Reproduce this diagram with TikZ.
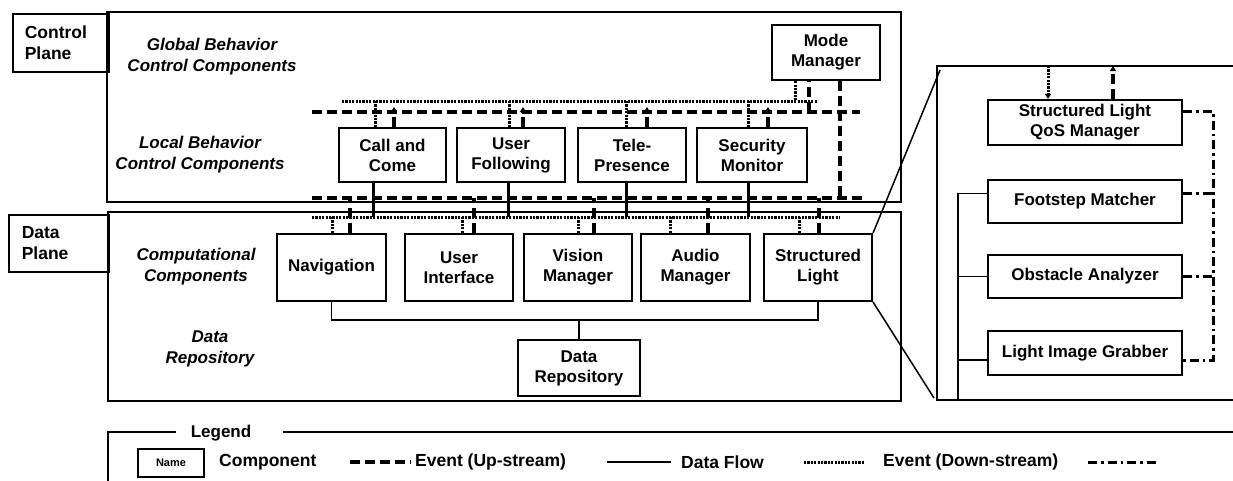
\documentclass[tikz,border=0pt]{standalone}
\usepackage{fontspec}
\setmainfont{Liberation Sans}
\usetikzlibrary{arrows.meta}
\begin{document}
\begin{tikzpicture}[x=1pt,y=-1pt,
  comp/.style={draw,line width=2.2pt,align=center,inner sep=0pt,font=\bfseries\fontsize{17}{20}\selectfont},
  lbl/.style={align=center,font=\bfseries\itshape\fontsize{17}{21}\selectfont},
  plane/.style={draw,line width=1.5pt,align=left,text width=72pt,inner xsep=12pt,inner ysep=0pt,minimum height=58pt,anchor=north west,font=\bfseries\fontsize{17.5}{21}\selectfont},
  frame/.style={line width=1.5pt},
  evup/.style={line width=3.2pt,dash pattern=on 10pt off 5pt},
  evdown/.style={line width=3pt,dash pattern=on 2.2pt off 1.2pt},
  flow/.style={line width=1.1pt},
  dd/.style={line width=3pt,dash pattern=on 9pt off 4pt on 2.5pt off 4pt},
  thickl/.style={line width=3pt},
  tip/.style={-{Triangle[length=5pt,width=6pt]}},
  leg/.style={anchor=west,inner sep=0pt,font=\bfseries\fontsize{17.5}{20}\selectfont},
]
\useasboundingbox (0,0) rectangle (1233,480);

% ---------- frames ----------
\draw[frame] (107,12) rectangle (901,202);
\draw[frame] (108,212) rectangle (901,401);
\node[plane] (cpl) at (12,13) {Control\\Plane};
\node[plane,text width=74pt,inner xsep=13pt,minimum height=57pt] (dpl) at (8,214) {Data\\Plane};

% ---------- layer labels ----------
\node[lbl] (glob) at (212,57) {Global Behavior\\Control Components};
\node[lbl] (loc) at (200,155) {Local Behavior\\Control Components};
\node[lbl] (compl) at (196,267) {Computational\\Components};
\node[lbl] (repl) at (210,349) {Data\\Repository};

% ---------- components ----------
\node[comp,minimum width=108pt,minimum height=55pt] (mm) at (826,52.5) {Mode\\Manager};
\node[comp,minimum width=107pt,minimum height=54pt] (cc) at (392.5,155) {Call and\\Come};
\node[comp,minimum width=108pt,minimum height=54pt] (uf) at (511,155) {User\\Following};
\node[comp,minimum width=108pt,minimum height=54pt] (tp) at (632,155) {Tele-\\Presence};
\node[comp,minimum width=110pt,minimum height=54pt] (sm) at (752,155) {Security\\Monitor};

\node[comp,minimum width=109pt,minimum height=67pt] (nav) at (331.5,267.5) {Navigation};
\node[comp,minimum width=108pt,minimum height=67pt] (ui) at (459,267.5) {User\\Interface};
\node[comp,minimum width=108pt,minimum height=67pt] (vm) at (578,267.5) {Vision\\Manager};
\node[comp,minimum width=109pt,minimum height=67pt] (am) at (695.5,267.5) {Audio\\Manager};
\node[comp,minimum width=108pt,minimum height=67pt] (sl) at (818,267.5) {Structured\\Light};
\node[comp,minimum width=122pt,minimum height=56pt] (dr) at (579,368) {Data\\Repository};

% ---------- buses ----------
\coordinate (ubL) at (342,101);  \coordinate (ubR) at (817,101);
\coordinate (udL) at (312,112);  \coordinate (udR) at (860,112);
\coordinate (ldL) at (312,198);  \coordinate (ldR) at (862,198);
\coordinate (lbL) at (312,217);  \coordinate (lbR) at (840,217);
\draw[evdown] (ubL) -- (ubR);
\draw[evup] (udL) -- (udR);
\draw[evup] (ldL) -- (ldR);
\draw[evdown] (lbL) -- (lbR);

% taps: local components
\coordinate (c1) at (375,101); \coordinate (e1) at (394,112); \coordinate (k1) at (373,217);
\coordinate (c2) at (509,101); \coordinate (e2) at (523,112); \coordinate (k2) at (508,217);
\coordinate (c3) at (626,101); \coordinate (e3) at (647,112); \coordinate (k3) at (626,217);
\coordinate (c4) at (748,101); \coordinate (e4) at (768,112); \coordinate (k4) at (748,217);
\foreach \c/\e/\k/\n in {c1/e1/k1/cc,c2/e2/k2/uf,c3/e3/k3/tp,c4/e4/k4/sm}{
  \draw[evdown] (\c) -- (\c |- \n.north);
  \draw[evup,tip] (\e |- \n.north) -- ([yshift=5pt]\e);
  \draw[thickl] (\k |- \n.south) -- (\k);
}

% taps: mode manager
\coordinate (m1) at (795,101); \coordinate (m2) at (809,112); \coordinate (m3) at (840,198);
\draw[evdown] (m1 |- mm.south) -- (m1);
\draw[evup] (m2) -- (m2 |- mm.south);
\draw[evup] (m3 |- mm.south) -- (m3);

% taps: data components
\coordinate (d1) at (332,217); \coordinate (f1) at (350,198);
\coordinate (d2) at (462,217); \coordinate (f2) at (474,198);
\coordinate (d3) at (578,217); \coordinate (f3) at (594,198);
\coordinate (d4) at (670,217); \coordinate (f4) at (708,198);
\coordinate (d5) at (799,217); \coordinate (f5) at (819,198);
\foreach \d/\f/\n in {d1/f1/nav,d2/f2/ui,d3/f3/vm,d4/f4/am,d5/f5/sl}{
  \draw[evdown] (\d) -- (\d |- \n.north);
  \draw[evup] (\f |- \n.north) -- (\f);
}

% data flow
\coordinate (fl) at (0,320);
\draw[flow] (nav.south) -- (nav.south |- fl) -- (sl.south |- fl) -- (sl.south);
\draw[flow] (dr.north) -- (dr.north |- fl);

% ---------- inset ----------
\coordinate (inTL) at (937,66); \coordinate (inBL) at (937,400);
\draw[line width=2pt] (1240,66) -- (inTL) -- (inBL) -- (1240,400);
\draw[line width=1.5pt] (sl.north east) -- (940,70);
\draw[line width=1.5pt] (sl.south east) -- (934,398);

\node[comp,minimum width=194pt,minimum height=45pt] (qos) at (1085,122.5) {Structured Light\\QoS Manager};
\node[comp,minimum width=194pt,minimum height=43pt] (fm) at (1085,201.5) {Footstep Matcher};
\node[comp,minimum width=194pt,minimum height=43pt] (oa) at (1085,276.5) {Obstacle Analyzer};
\node[comp,minimum width=194pt,minimum height=44pt] (lig) at (1085,353) {Light Image Grabber};

\coordinate (q1) at (1048,66); \coordinate (q2) at (1113,66);
\draw[evdown,tip] (q1) -- (q1 |- qos.north);
\draw[evup,tip] (q2 |- qos.north) -- (q2);

\coordinate (fx) at (958,400);
\draw[flow] ([yshift=8pt]fm.west) -- ([yshift=8pt]fm.west -| fx) -- (fx);
\draw[flow] (oa.west) -- (oa.west -| fx);
\draw[flow] ([yshift=-7pt]lig.west) -- ([yshift=-7pt]lig.west -| fx);

\coordinate (ddx) at (1213,0);
\draw[dd] ([yshift=11pt]qos.east) -- ([yshift=11pt]qos.east -| ddx) -- ([yshift=-7pt]lig.east -| ddx) -- ([yshift=-7pt]lig.east);
\draw[dd] ([yshift=8pt]fm.east) -- ([yshift=8pt]fm.east -| ddx);
\draw[dd] (oa.east) -- (oa.east -| ddx);

% ---------- legend ----------
\draw[line width=1.2pt] (108,481) -- (108,432) -- (176,432);
\draw[line width=1.2pt] (283,432) -- (1234,432);
\node[font=\bfseries\fontsize{17}{19}\selectfont] (legt) at (221,433) {Legend};
\node[draw,line width=2pt,minimum width=66pt,minimum height=28pt,inner sep=0pt,font=\bfseries\fontsize{11}{12}\selectfont] (nm) at (171,463) {Name};
\node[leg] (lc) at (219,462) {Component};
\coordinate (a1) at (350,462); \coordinate (a2) at (411,462);
\draw[evup] (a1) -- (a2);
\node[leg] (l1) at (415,462) {Event (Up-stream)};
\coordinate (b1) at (607,462); \coordinate (b2) at (671,462);
\draw[flow] (b1) -- (b2);
\node[leg] (l2) at (681,462) {Data Flow};
\coordinate (g1) at (804,462); \coordinate (g2) at (864,462);
\draw[evdown] (g1) -- (g2);
\node[leg] (l3) at (883,462) {Event (Down-stream)};
\coordinate (h1) at (1088,462); \coordinate (h2) at (1159,462);
\draw[dd] (h1) -- (h2);
\end{tikzpicture}
\end{document}
